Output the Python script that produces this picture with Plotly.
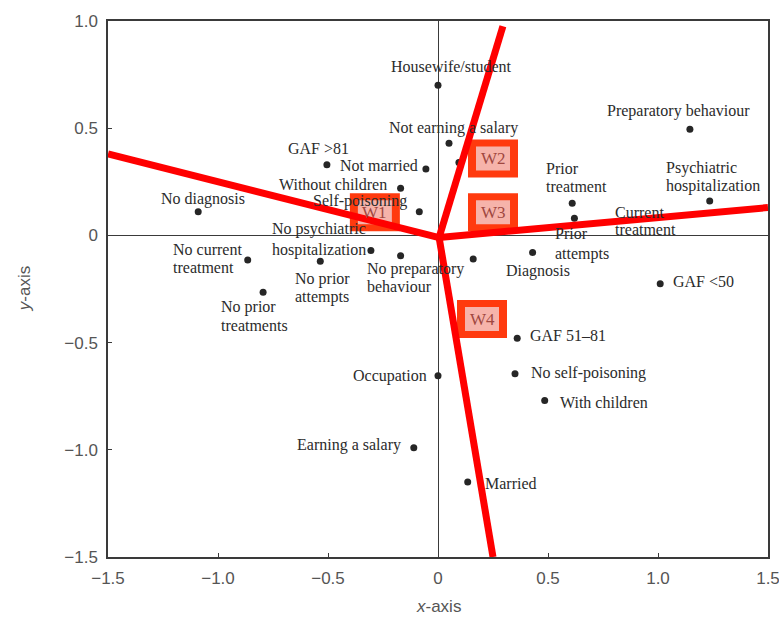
import plotly.graph_objects as go

# ---- data ----
labels = [
    "Housewife/student", "Not earning a salary", "", "Not married", "GAF >81",
    "Without children", "Self-poisoning", "No diagnosis",
    "No psychiatric<br>hospitalization", "No preparatory<br>behaviour",
    "No current<br>treatment", "No prior<br>attempts", "No prior<br>treatments",
    "Occupation", "Earning a salary", "Married", "GAF 51–81",
    "No self-poisoning", "With children", "Diagnosis", "Prior<br>attempts",
    "Current<br>treatment", "GAF <50", "Prior<br>treatment",
    "Preparatory behaviour", "Psychiatric<br>hospitalization",
]
x_vals = [0.0, 0.05, 0.095, -0.055, -0.505, -0.17, -0.085, -1.09, -0.305, -0.17,
          -0.865, -0.535, -0.795, 0.0, -0.11, 0.135, 0.36, 0.35, 0.485, 0.16,
          0.43, 0.62, 1.01, 0.61, 1.145, 1.235]
y_vals = [0.70, 0.43, 0.34, 0.31, 0.33, 0.22, 0.11, 0.11, -0.07, -0.095,
          -0.115, -0.12, -0.265, -0.655, -0.99, -1.15, -0.48, -0.645, -0.77, -0.11,
          -0.08, 0.08, -0.225, 0.15, 0.495, 0.16]

tick_vals = [-1.5, -1.0, -0.5, 0, 0.5, 1.0, 1.5]
x_tick_text = ["−1.5", "−1.0", "−0.5", "0", "0.5", "1.0", "1.5"]
y_tick_vals = [-1.5, -1.0, -0.5, 0, 0.5, 1.0]
y_tick_text = ["−1.5", "−1.0", "−0.5", "0", "0.5", "1.0"]

# red partition lines: centre and end points
centre = (0.005, -0.01)
ray_x = [0.295, -1.5, 1.5, 0.25]
ray_y = [0.975, 0.38, 0.13, -1.5]

# region tags
tag_names = ["W1", "W2", "W3", "W4"]
tag_x = [-0.287, 0.25, 0.25, 0.20]
tag_y = [0.108, 0.359, 0.108, -0.39]

# ---- label placement (anchor, xshift, yshift, line spacing) ----
place = {
    "Housewife/student": ("center", 13, 19, 18),
    "Not earning a salary": ("center", 4, 15, 18),
    "": ("center", 0, 0, 18),
    "Not married": ("right", -6, 3, 18),
    "GAF >81": ("center", -8, 16, 18),
    "Without children": ("right", -12, 4, 18),
    "Self-poisoning": ("right", -10, 11, 18),
    "No diagnosis": ("center", 5, 13, 18),
    "No psychiatric<br>hospitalization": ("left", -101, 11, 21),
    "No preparatory<br>behaviour": ("left", -36, -22, 18),
    "No current<br>treatment": ("left", -77, 2, 18),
    "No prior<br>attempts": ("left", -27, -27, 18),
    "No prior<br>treatments": ("left", -44, -24, 19),
    "Occupation": ("right", -9, 0, 18),
    "Earning a salary": ("right", -11, 3, 18),
    "Married": ("left", 15, -2, 18),
    "GAF 51–81": ("left", 11, 3, 18),
    "No self-poisoning": ("left", 14, 1, 18),
    "With children": ("left", 13, -2, 18),
    "Diagnosis": ("left", 31, -12, 18),
    "Prior<br>attempts": ("left", 20, 9, 20),
    "Current<br>treatment": ("left", 39, -3, 17),
    "GAF <50": ("left", 11, 2, 18),
    "Prior<br>treatment": ("left", -28, 26, 18),
    "Preparatory behaviour": ("center", -11, 18, 18),
    "Psychiatric<br>hospitalization": ("left", -46, 24, 18),
}

fig = go.Figure()

fig.add_trace(go.Scatter(
    x=x_vals, y=y_vals, mode="markers",
    marker=dict(size=7, color="#262626"),
    hoverinfo="text", text=labels, showlegend=False,
))

label_font = dict(family="Liberation Serif", size=16, color="#2b2b2b")
annotations = []
for lab, xv, yv in zip(labels, x_vals, y_vals):
    if not lab:
        continue
    anchor, dx, dy, sp = place[lab]
    lines = lab.split("<br>")
    n = len(lines)
    for i, ln in enumerate(lines):
        annotations.append(dict(
            x=xv, y=yv, xref="x", yref="y", text=ln, showarrow=False,
            xanchor=anchor, yanchor="middle", xshift=dx,
            yshift=dy + (n - 1) / 2 * sp - i * sp,
            font=label_font,
        ))

shapes = []
# W boxes (outer orange-red, inner pale pink)
half_w = 25 / 220.0
half_h = 19 / 214.4
in_w = 17 / 220.0
in_h = 12 / 214.4
for nm, tx, ty in zip(tag_names, tag_x, tag_y):
    shapes.append(dict(type="rect", xref="x", yref="y",
                       x0=tx - half_w, x1=tx + half_w, y0=ty - half_h, y1=ty + half_h,
                       fillcolor="#FF3A0E", line=dict(width=0), layer="above"))
    shapes.append(dict(type="rect", xref="x", yref="y",
                       x0=tx - in_w, x1=tx + in_w, y0=ty - in_h, y1=ty + in_h,
                       fillcolor="#F6B3AA", line=dict(width=0), layer="above"))
    annotations.append(dict(
        x=tx, y=ty, xref="x", yref="y", text=nm, showarrow=False,
        xanchor="center", yanchor="middle",
        font=dict(family="Liberation Serif", size=17, color="#A0473F"),
    ))

for ex, ey in zip(ray_x, ray_y):
    shapes.append(dict(type="line", xref="x", yref="y",
                       x0=centre[0], y0=centre[1], x1=ex, y1=ey,
                       line=dict(color="#FF0000", width=7), layer="above"))

# axis titles
annotations.append(dict(x=0.5, y=-0.093, xref="paper", yref="paper",
                        text="<i>x</i>-axis", showarrow=False,
                        xanchor="center", yanchor="middle",
                        font=dict(family="Liberation Sans", size=17, color="#555555")))
annotations.append(dict(x=-0.127, y=0.5, xref="paper", yref="paper",
                        text="<i>y</i>-axis", showarrow=False, textangle=-90,
                        xanchor="center", yanchor="middle",
                        font=dict(family="Liberation Sans", size=17, color="#555555")))

axis_common = dict(
    showgrid=False, showline=True, mirror=True, linecolor="#3a3a3a", linewidth=1.5,
    zeroline=True, zerolinecolor="#3a3a3a", zerolinewidth=1.3,
    ticks="inside", ticklen=4, tickcolor="#3a3a3a", automargin=False,
    ticklabeloverflow="allow",
    tickfont=dict(family="Liberation Sans", size=17, color="#555555"),
)

fig.update_layout(
    width=779, height=621,
    margin=dict(l=108, r=11, t=21, b=64),
    paper_bgcolor="white", plot_bgcolor="white",
    xaxis=dict(range=[-1.5, 1.5], tickvals=tick_vals, ticktext=x_tick_text,
               ticklabelstandoff=5, **axis_common),
    yaxis=dict(range=[-1.5, 1.0], tickvals=y_tick_vals, ticktext=y_tick_text,
               ticklabelstandoff=5, **axis_common),
    shapes=shapes, annotations=annotations,
    showlegend=False,
)

fig.write_html(
    "out.html",
    config={"displayModeBar": False},
    post_script="document.body.style.margin='0';document.body.style.overflow='hidden';",
)
